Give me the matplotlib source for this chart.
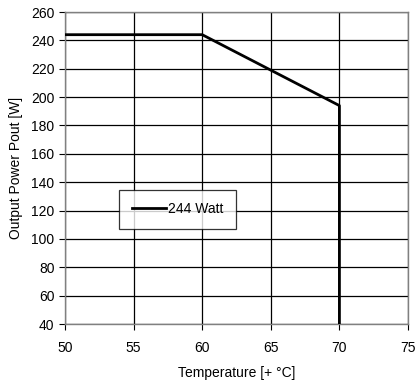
import matplotlib
matplotlib.use("Agg")
import matplotlib.pyplot as plt

temps = [50, 60, 70, 70]
power = [244, 244, 194, 40]
series_label = "244 Watt"
xticks = [50, 55, 60, 65, 70, 75]
yticks = list(range(40, 261, 20))

plt.rcParams['font.family'] = ['Liberation Sans', 'DejaVu Sans']
fig = plt.figure(figsize=(4.18, 3.81), dpi=100)
ax = fig.add_axes([65/418, 1-324/381, 343/418, 312/381])
ax.plot(temps, power, color='black', lw=2, label=series_label, zorder=3)
ax.set_xlim(50, 75)
ax.set_ylim(40, 260)
ax.set_xticks(xticks)
ax.set_yticks(yticks)
ax.grid(True, color='black', lw=0.9)
for s in ax.spines.values():
    s.set_color('#808080')
    s.set_linewidth(1)
ax.tick_params(axis='both', labelsize=10, length=4, color='black', direction='out')
ax.tick_params(axis='x', pad=8)
ax.set_xlabel('Temperature [+ °C]', fontsize=10, labelpad=8)
ax.set_ylabel('Output Power Pout [W]', fontsize=10, labelpad=6)
leg = ax.legend(loc='center', bbox_to_anchor=(0.328, 0.368), frameon=True, fancybox=False,
                edgecolor='black', fontsize=10, handlelength=2.5, borderpad=0.9, handletextpad=0.1,
                borderaxespad=0)
leg.get_frame().set_linewidth(0.9)
fig.savefig('out.png', dpi=100)
